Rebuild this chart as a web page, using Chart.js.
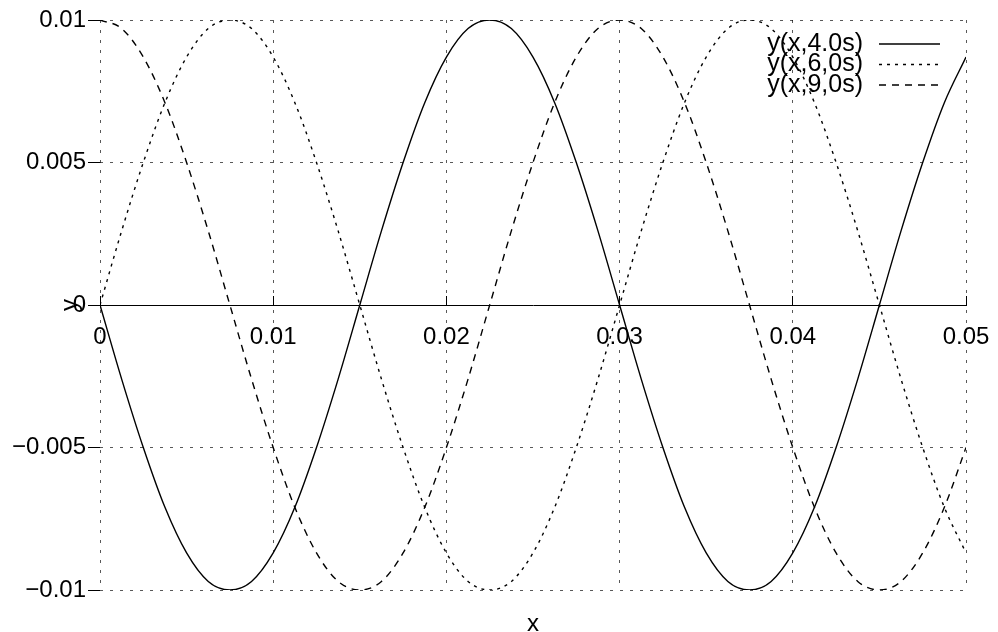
<!DOCTYPE html>
<html>
<head>
<meta charset="utf-8">
<script src="https://cdn.jsdelivr.net/npm/chart.js@4/dist/chart.umd.min.js"></script>
<style>
  html, body { margin: 0; padding: 0; background: #fff; }
  #wrap { width: 998px; height: 632px; position: relative; }
</style>
</head>
<body>
<div id="wrap"><canvas id="grafica"></canvas></div>
<script>
// posiciones x (m)
const xs = [0, 0.00125, 0.0025, 0.00375, 0.005, 0.00625, 0.0075, 0.00875, 0.01, 0.01125,
  0.0125, 0.01375, 0.015, 0.01625, 0.0175, 0.01875, 0.02, 0.02125, 0.0225, 0.02375,
  0.025, 0.02625, 0.0275, 0.02875, 0.03, 0.03125, 0.0325, 0.03375, 0.035, 0.03625,
  0.0375, 0.03875, 0.04, 0.04125, 0.0425, 0.04375, 0.045, 0.04625, 0.0475, 0.04875, 0.05];

// y(x, 4.0s) - línea continua
const y4 = [0, -0.0026, -0.005, -0.0071, -0.0087, -0.0097, -0.01, -0.0097, -0.0087, -0.0071,
  -0.005, -0.0026, 0, 0.0026, 0.005, 0.0071, 0.0087, 0.0097, 0.01, 0.0097,
  0.0087, 0.0071, 0.005, 0.0026, 0, -0.0026, -0.005, -0.0071, -0.0087, -0.0097,
  -0.01, -0.0097, -0.0087, -0.0071, -0.005, -0.0026, 0, 0.0026, 0.005, 0.0071, 0.0087];

// y(x, 6.0s) - punteada
const y6 = [0, 0.0026, 0.005, 0.0071, 0.0087, 0.0097, 0.01, 0.0097, 0.0087, 0.0071,
  0.005, 0.0026, 0, -0.0026, -0.005, -0.0071, -0.0087, -0.0097, -0.01, -0.0097,
  -0.0087, -0.0071, -0.005, -0.0026, 0, 0.0026, 0.005, 0.0071, 0.0087, 0.0097,
  0.01, 0.0097, 0.0087, 0.0071, 0.005, 0.0026, 0, -0.0026, -0.005, -0.0071, -0.0087];

// y(x, 9.0s) - guiones
const y9 = [0.01, 0.0097, 0.0087, 0.0071, 0.005, 0.0026, 0, -0.0026, -0.005, -0.0071,
  -0.0087, -0.0097, -0.01, -0.0097, -0.0087, -0.0071, -0.005, -0.0026, 0, 0.0026,
  0.005, 0.0071, 0.0087, 0.0097, 0.01, 0.0097, 0.0087, 0.0071, 0.005, 0.0026,
  0, -0.0026, -0.005, -0.0071, -0.0087, -0.0097, -0.01, -0.0097, -0.0087, -0.0071, -0.005];

const seriesNames = ['y(x,4.0s)', 'y(x,6,0s)', 'y(x,9,0s)'];
const xTickLabels = ['0', '0.01', '0.02', '0.03', '0.04', '0.05'];
const yTickLabels = ['\u22120.01', '\u22120.005', '0', '0.005', '0.01'];

const FONT = "'Liberation Sans', Arial, Helvetica, sans-serif";
const gridColor = 'rgba(0,0,0,0.65)';

function puntos(ys) {
    return xs.map((x, i) => ({ x: x, y: ys[i] }));
}

const estilos = [[], [3, 5], [7, 6]];
const series = [y4, y6, y9];
const datasets = series.map((s, i) => ({
    label: seriesNames[i],
    data: puntos(s),
    borderColor: '#000',
    borderWidth: 1.4,
    borderDash: estilos[i],
    pointRadius: 0,
    cubicInterpolationMode: 'monotone',
    fill: false
}));

// leyenda y títulos de ejes dibujados a mano (estilo gnuplot)
const extras = {
    id: 'extras',
    afterDraw(chart) {
        const ctx = chart.ctx;
        const area = chart.chartArea;
        ctx.save();
        ctx.fillStyle = '#000';
        ctx.font = '24px ' + FONT;
        // título eje x
        ctx.textAlign = 'center';
        ctx.textBaseline = 'alphabetic';
        ctx.fillText('x', (area.left + area.right) / 2, 631);
        // título eje y (rotado)
        ctx.save();
        ctx.translate(77, chart.scales.y.getPixelForValue(0));
        ctx.rotate(-Math.PI / 2);
        ctx.fillText('y', 0, 0);
        ctx.restore();
        // leyenda
        ctx.font = '25px ' + FONT;
        chart.data.datasets.forEach((ds, i) => {
            const yy = 44 + i * 20.5;
            ctx.textAlign = 'right';
            ctx.textBaseline = 'middle';
            ctx.fillText(ds.label, 863, yy);
            ctx.beginPath();
            ctx.setLineDash(ds.borderDash);
            ctx.lineWidth = 1.4;
            ctx.strokeStyle = '#000';
            ctx.moveTo(879, yy);
            ctx.lineTo(940, yy);
            ctx.stroke();
        });
        ctx.restore();
    }
};

const graph = document.querySelector('#grafica');
const Grafico = new Chart(graph, {
    type: 'line',
    data: { datasets: datasets },
    options: {
        responsive: true,
        maintainAspectRatio: false,
        animation: false,
        layout: { padding: { top: 20, right: 32, bottom: 42, left: 0 } },
        plugins: { legend: { display: false }, tooltip: { enabled: false } },
        scales: {
            x: {
                type: 'linear',
                position: { y: 0 },
                min: 0,
                max: 0.05,
                afterFit: (scale) => { scale.paddingLeft = 0; scale.paddingRight = 0; },
                ticks: {
                    stepSize: 0.01,
                    padding: 28,
                    color: '#000',
                    font: { family: FONT, size: 24 },
                    maxRotation: 0,
                    callback: (v, i) => xTickLabels[i]
                },
                grid: {
                    color: gridColor,
                    lineWidth: 1,
                    drawTicks: true,
                    tickLength: -10,
                    tickColor: '#000',
                    tickBorderDash: []
                },
                border: { display: true, color: '#000', width: 1, dash: [3, 7] }
            },
            y: {
                min: -0.01,
                max: 0.01,
                afterFit: (scale) => { scale.width = 100; },
                ticks: {
                    stepSize: 0.005,
                    padding: 2,
                    color: '#000',
                    font: { family: FONT, size: 24 },
                    callback: (v, i) => yTickLabels[i]
                },
                grid: {
                    color: gridColor,
                    lineWidth: 1,
                    drawTicks: true,
                    tickLength: 12,
                    tickColor: '#000',
                    tickBorderDash: []
                },
                border: { display: false, dash: [3, 7] }
            }
        }
    },
    plugins: [extras]
});
</script>
</body>
</html>
